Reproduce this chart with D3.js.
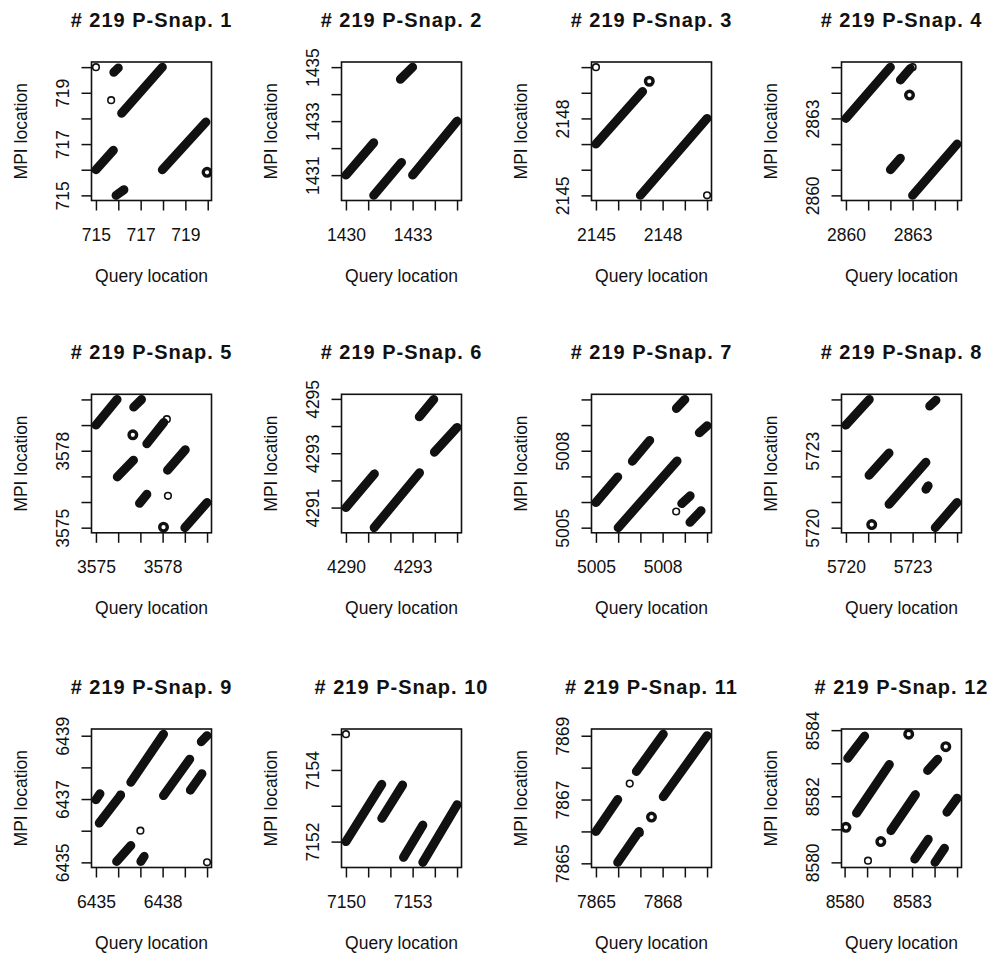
<!DOCTYPE html>
<html><head><meta charset="utf-8">
<script src="https://cdn.jsdelivr.net/npm/d3@7"></script>
<style>
html,body{margin:0;padding:0;background:#fff;}
svg{display:block;font-family:"Liberation Sans",Arial,sans-serif;}
</style></head><body>
<svg id="chart" width="993" height="957"></svg>
<script>
// Snapshot numbers, one panel each
const snapNumbers = [1, 2, 3, 4, 5, 6, 7, 8, 9, 10, 11, 12];

// Runs of matched locations: [queryStart, mpiStart, queryEnd, mpiEnd]
const streaks = [
  [[715.8, 719.8, 716.0, 719.97], [716.15, 718.2, 717.97, 720.0], [715.0, 716.0, 715.78, 716.76],
   [715.9, 715.0, 716.25, 715.22], [717.97, 716.0, 719.92, 717.86]],
  [[1432.45, 1434.55, 1433.0, 1435.0], [1430.0, 1431.0, 1431.25, 1432.2],
   [1431.25, 1430.25, 1432.5, 1431.47], [1433.0, 1431.0, 1435.0, 1433.0]],
  [[2145.0, 2147.0, 2147.1, 2149.05], [2147.0, 2145.0, 2150.0, 2148.0]],
  [[2860.0, 2863.0, 2862.0, 2865.0], [2862.45, 2864.5, 2862.9, 2864.95],
   [2862.0, 2861.0, 2862.45, 2861.45], [2863.0, 2860.0, 2865.0, 2862.0]],
  [[3575.0, 3579.0, 3575.95, 3580.0], [3576.7, 3579.7, 3577.05, 3580.0], [3577.29, 3578.27, 3578.05, 3579.1],
   [3575.96, 3576.98, 3576.69, 3577.63], [3578.22, 3577.24, 3579.02, 3578.04],
   [3576.96, 3575.95, 3577.29, 3576.3], [3579.0, 3575.0, 3580.0, 3575.98]],
  [[4293.3, 4294.34, 4293.95, 4294.98], [4293.98, 4293.04, 4295.0, 4293.95],
   [4290.0, 4291.0, 4291.28, 4292.24], [4291.27, 4290.26, 4293.31, 4292.28]],
  [[5008.62, 5009.65, 5009.0, 5010.0], [5009.65, 5008.7, 5010.0, 5008.97], [5006.64, 5007.59, 5007.42, 5008.4],
   [5005.0, 5005.98, 5005.98, 5006.98], [5006.0, 5005.0, 5008.65, 5007.6],
   [5008.86, 5005.94, 5009.24, 5006.24], [5009.23, 5005.21, 5009.73, 5005.66]],
  [[5720.0, 5724.0, 5721.05, 5725.0], [5723.77, 5724.74, 5724.05, 5724.97], [5721.04, 5722.04, 5721.94, 5722.91],
   [5721.94, 5720.91, 5723.6, 5722.55], [5723.6, 5721.5, 5723.7, 5721.63], [5724.02, 5720.0, 5725.0, 5720.98]],
  [[6435.15, 6436.24, 6436.11, 6437.12], [6435.0, 6436.98, 6435.18, 6437.17], [6436.57, 6437.53, 6438.04, 6439.05],
   [6438.04, 6437.11, 6439.22, 6438.26], [6439.25, 6437.28, 6439.77, 6437.8], [6439.74, 6438.81, 6440.0, 6439.0],
   [6435.93, 6435.03, 6436.57, 6435.53], [6437.02, 6435.03, 6437.17, 6435.19]],
  [[7150.0, 7152.0, 7151.61, 7153.6], [7151.61, 7152.65, 7152.55, 7153.58],
   [7152.59, 7151.56, 7153.46, 7152.46], [7153.46, 7151.42, 7155.0, 7153.03]],
  [[7865.0, 7866.0, 7865.98, 7867.0], [7866.82, 7867.88, 7868.03, 7869.05],
   [7865.98, 7865.03, 7866.94, 7866.0], [7868.03, 7867.09, 7870.0, 7869.0]],
  [[8580.14, 8583.15, 8580.89, 8583.82], [8583.69, 8582.78, 8584.14, 8583.12], [8580.53, 8581.49, 8581.99, 8582.96],
   [8582.06, 8580.96, 8583.15, 8582.05], [8584.55, 8581.52, 8585.0, 8581.94],
   [8583.12, 8580.1, 8583.72, 8580.7], [8584.02, 8580.0, 8584.44, 8580.43]]
];

// Isolated matches: [query, mpi]
const singlePoints = [
  [[715.0, 720.0], [715.68, 718.71]],
  [],
  [[2145.0, 2150.0], [2150.0, 2145.0]],
  [[2863.0, 2865.0]],
  [[3578.19, 3579.23], [3578.24, 3576.24]],
  [],
  [[5008.61, 5005.63]],
  [[5720.0, 5724.0]],
  [[6440.0, 6435.0], [6437.0, 6436.0], [6436.11, 6437.14]],
  [[7150.0, 7155.0]],
  [[7866.52, 7867.5], [7866.97, 7865.95]],
  [[8581.04, 8580.05]]
];

// Small tight groups of matches: [query, mpi]
const clusterPoints = [
  [[719.97, 715.9]],
  [],
  [[2147.4, 2149.45]],
  [[2862.86, 2863.91]],
  [[3576.66, 3578.62], [3578.04, 3575.02]],
  [],
  [],
  [[5721.16, 5720.12]],
  [],
  [],
  [[7867.5, 7866.45]],
  [[8582.85, 8583.88], [8584.5, 8583.5], [8580.06, 8581.06], [8581.61, 8580.63]]
];

// Labelled ticks on each axis
const xTickLabels = [
  [715, 717, 719], [1430, 1433], [2145, 2148], [2860, 2863], [3575, 3578], [4290, 4293],
  [5005, 5008], [5720, 5723], [6435, 6438], [7150, 7153], [7865, 7868], [8580, 8583]
];
const yTickLabels = [
  [715, 717, 719], [1431, 1433, 1435], [2145, 2148], [2860, 2863], [3575, 3578], [4291, 4293, 4295],
  [5005, 5008], [5720, 5723], [6435, 6437, 6439], [7152, 7154], [7865, 7867, 7869], [8580, 8582, 8584]
];

const titlePrefix = "# 219 P-Snap. ";
const xAxisTitle = "Query location";
const yAxisTitle = "MPI location";

// Layout of the 3 x 4 grid of plot boxes
const boxLeft0 = 91.5, colStep = 250, boxTops = [62, 394.3, 729];
const boxW = 120, boxH = 138.5;
const r = 3.3, sw = 1.6;
const runWidth = 9;
const ink = "#111";

const svg = d3.select("#chart");

function padded(ext) {
  const pad = (ext[1] - ext[0]) * 0.04;
  return [ext[0] - pad, ext[1] + pad];
}

snapNumbers.forEach((snap, i) => {
  const col = i % 4, row = Math.floor(i / 4);
  const left = boxLeft0 + col * colStep, top = boxTops[row];
  const segs = streaks[i], pts = singlePoints[i], cls = clusterPoints[i];

  const xs = [], ys = [];
  segs.forEach(s => { xs.push(s[0], s[2]); ys.push(s[1], s[3]); });
  pts.concat(cls).forEach(p => { xs.push(p[0]); ys.push(p[1]); });

  const x = d3.scaleLinear().domain(padded(d3.extent(xs))).range([left, left + boxW]);
  const y = d3.scaleLinear().domain(padded(d3.extent(ys))).range([top + boxH, top]);

  const g = svg.append("g");
  const clipId = "clip" + snap;
  g.append("clipPath").attr("id", clipId)
    .append("rect").attr("x", left).attr("y", top).attr("width", boxW).attr("height", boxH);

  const plot = g.append("g").attr("clip-path", `url(#${clipId})`);

  plot.selectAll("line.run").data(segs).join("line")
    .attr("class", "run")
    .attr("x1", d => x(d[0])).attr("y1", d => y(d[1]))
    .attr("x2", d => x(d[2])).attr("y2", d => y(d[3]))
    .attr("stroke", ink).attr("stroke-width", runWidth).attr("stroke-linecap", "round");

  plot.selectAll("circle.single").data(pts).join("circle")
    .attr("class", "single")
    .attr("cx", d => x(d[0])).attr("cy", d => y(d[1])).attr("r", r)
    .attr("fill", "none").attr("stroke", ink).attr("stroke-width", sw);

  plot.selectAll("circle.group").data(cls).join("circle")
    .attr("class", "group")
    .attr("cx", d => x(d[0])).attr("cy", d => y(d[1])).attr("r", r + 0.5)
    .attr("fill", "none").attr("stroke", ink).attr("stroke-width", 3.4);

  // Integer ticks inside each axis range
  const xd = x.domain(), yd = y.domain();
  const xTicks = d3.range(Math.ceil(xd[0]), Math.floor(xd[1]) + 1);
  const yTicks = d3.range(Math.ceil(yd[0]), Math.floor(yd[1]) + 1);

  const xAxis = g.append("g").attr("transform", `translate(0,${top + boxH})`)
    .call(d3.axisBottom(x).tickValues(xTicks).tickSize(10)
      .tickFormat(v => xTickLabels[i].includes(v) ? String(v) : ""));
  xAxis.select(".domain").remove();
  xAxis.selectAll(".tick line").attr("stroke", ink).attr("stroke-width", 1.5);
  xAxis.selectAll(".tick text").attr("y", 40).attr("dy", null)
    .attr("font-size", 17.5).attr("fill", ink)
    .attr("font-family", '"Liberation Sans", Arial, sans-serif');

  const yAxis = g.append("g").attr("transform", `translate(${left},0)`)
    .call(d3.axisLeft(y).tickValues(yTicks).tickSize(10)
      .tickFormat(v => yTickLabels[i].includes(v) ? String(v) : ""));
  yAxis.select(".domain").remove();
  yAxis.selectAll(".tick line").attr("stroke", ink).attr("stroke-width", 1.5);
  yAxis.selectAll(".tick text").attr("x", 0).attr("y", -22.7).attr("dy", null)
    .attr("transform", "rotate(-90)").attr("text-anchor", "middle")
    .attr("font-size", 17.5).attr("fill", ink)
    .attr("font-family", '"Liberation Sans", Arial, sans-serif');

  // Plot box
  g.append("rect").attr("x", left).attr("y", top).attr("width", boxW).attr("height", boxH)
    .attr("fill", "none").attr("stroke", ink).attr("stroke-width", 1.6);

  // Titles
  g.append("text").attr("x", left + boxW / 2).attr("y", top - 35)
    .attr("text-anchor", "middle").attr("font-weight", "bold").attr("font-size", 20)
    .attr("letter-spacing", 1).attr("fill", ink)
    .text(titlePrefix + snap);
  g.append("text").attr("x", left + boxW / 2).attr("y", top + boxH + 81)
    .attr("text-anchor", "middle").attr("font-size", 17.5).attr("fill", ink)
    .text(xAxisTitle);
  g.append("text").attr("transform", `translate(${left - 65},${top + boxH / 2}) rotate(-90)`)
    .attr("text-anchor", "middle").attr("font-size", 17.5).attr("fill", ink)
    .text(yAxisTitle);
});
</script>
</body></html>
